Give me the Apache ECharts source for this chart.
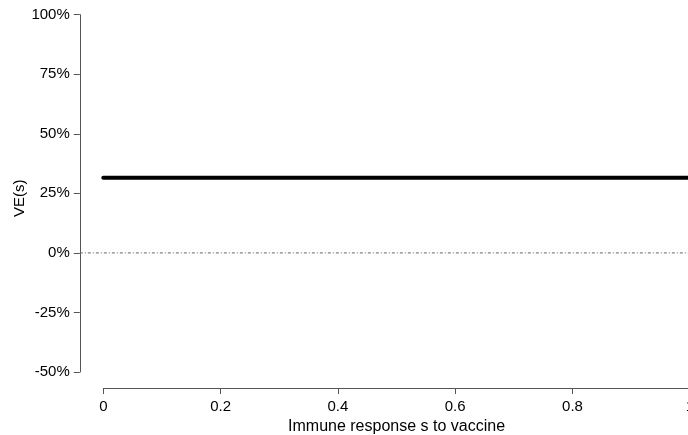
<!DOCTYPE html>
<html>
<head>
<meta charset="utf-8">
<script src="https://cdn.jsdelivr.net/npm/echarts@6/dist/echarts.min.js"></script>
<style>
html,body{margin:0;padding:0;background:#fff;}
#chart{width:688px;height:435px;}
</style>
</head>
<body>
<div id="chart"></div>
<script>
// Data
const sValues = [0, 1];
const veValues = [0.315, 0.315];
const refS = [-0.04, 1.04];
const refVE = [0, 0];
const yTickMin = -0.5, yTickMax = 1, yTickStep = 0.25;
const xTickMin = 0, xTickMax = 1, xTickStep = 0.2;
const xPlotMin = -0.04, xPlotMax = 1.04;
const xName = 'Immune response s to vaccine';
const yName = 'VE(s)';

const font = 'Liberation Sans, Arial, sans-serif';
const gLeft = 103.3, gTop = 14.7, gW = 586.5, gH = 357.3;
const pxPerUnit = gW / (xTickMax - xTickMin);
const chart = echarts.init(document.getElementById('chart'));
chart.setOption({
  animation: false,
  grid: [
    { left: gLeft, top: gTop, width: gW, height: gH, containLabel: false, outerBoundsMode: 'none' },
    { left: gLeft + (xPlotMin - xTickMin) * pxPerUnit, top: gTop, width: (xPlotMax - xPlotMin) * pxPerUnit, height: gH, containLabel: false, outerBoundsMode: 'none' }
  ],
  xAxis: [{
    type: 'value', min: xTickMin, max: xTickMax, interval: xTickStep,
    offset: 16,
    name: xName, nameLocation: 'middle', nameGap: 30,
    nameTextStyle: { fontFamily: font, fontSize: 16, color: '#000' },
    axisLine: { show: true, onZero: false, lineStyle: { color: '#555', width: 1 } },
    axisTick: { show: true, length: 6, lineStyle: { color: '#555' } },
    axisLabel: { fontFamily: font, fontSize: 15, color: '#000', margin: 11, showMaxLabel: true },
    splitLine: { show: false }
  }, {
    type: 'value', gridIndex: 1, min: xPlotMin, max: xPlotMax, show: false
  }],
  yAxis: [{
    type: 'value', min: yTickMin, max: yTickMax, interval: yTickStep,
    offset: 23.5,
    name: yName, nameLocation: 'middle', nameGap: 52, nameRotate: 90, nameMoveOverlap: false,
    nameTextStyle: { fontFamily: font, fontSize: 15, color: '#000', padding: [0, 10, 0, 0] },
    axisLine: { show: true, onZero: false, lineStyle: { color: '#555', width: 1 } },
    axisTick: { show: true, length: 6, lineStyle: { color: '#555' } },
    axisLabel: { fontFamily: font, fontSize: 15, color: '#000', margin: 10,
      formatter: v => Math.round(v * 100) + '%' },
    splitLine: { show: false }
  }, {
    type: 'value', gridIndex: 1, min: yTickMin, max: yTickMax, show: false
  }],
  series: [
    {
      type: 'line', xAxisIndex: 1, yAxisIndex: 1,
      data: refS.map((s, i) => [s, refVE[i]]),
      showSymbol: false, clip: false, silent: true,
      lineStyle: { color: '#666', width: 1, type: [3, 2, 1, 2] }
    },
    {
      type: 'line', data: sValues.map((s, i) => [s, veValues[i]]),
      showSymbol: false, clip: false,
      lineStyle: { color: '#000', width: 4, cap: 'round' }
    }
  ]
});
</script>
</body>
</html>
